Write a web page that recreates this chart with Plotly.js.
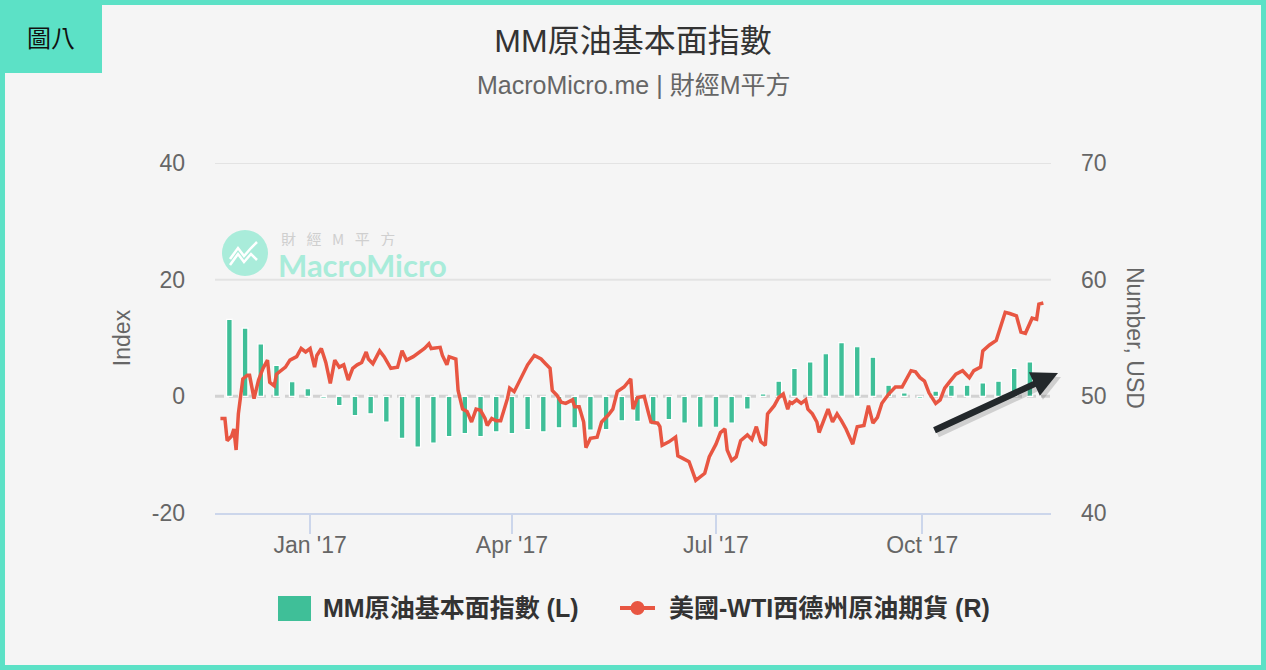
<!DOCTYPE html>
<html>
<head>
<meta charset="utf-8">
<script src="https://cdn.plot.ly/plotly-3.0.1.min.js"></script>
<style>
html,body{margin:0;padding:0;background:#f5f5f5;}
#wrap{position:relative;width:1266px;height:670px;overflow:hidden;}
#chart{width:1266px;height:670px;}
#frame{position:absolute;left:0;top:0;width:1266px;height:670px;box-sizing:border-box;border:5px solid #5ce1c6;pointer-events:none;}
</style>
</head>
<body>
<div id="wrap"><div id="chart"></div><div id="frame"></div></div>
<script>
// ---- data ----
var barName = 'MM原油基本面指數 (L)';
var lineName = '美國-WTI西德州原油期貨 (R)';

var barDates = [
 '2016-11-26','2016-12-03','2016-12-10','2016-12-17','2016-12-24','2016-12-31',
 '2017-01-07','2017-01-14','2017-01-21','2017-01-28',
 '2017-02-04','2017-02-11','2017-02-18','2017-02-25',
 '2017-03-04','2017-03-11','2017-03-18','2017-03-25',
 '2017-04-01','2017-04-08','2017-04-15','2017-04-22','2017-04-29',
 '2017-05-06','2017-05-13','2017-05-20','2017-05-27',
 '2017-06-03','2017-06-10','2017-06-17','2017-06-24',
 '2017-07-01','2017-07-08','2017-07-15','2017-07-22','2017-07-29',
 '2017-08-05','2017-08-12','2017-08-19','2017-08-26',
 '2017-09-02','2017-09-09','2017-09-16','2017-09-23','2017-09-30',
 '2017-10-07','2017-10-14','2017-10-21','2017-10-28',
 '2017-11-04','2017-11-11','2017-11-18'
];
var barValues = [
 13.2, 11.7, 9.0, 5.3, 2.5, 1.3,
 -0.3, -1.6, -3.3, -3.0,
 -4.4, -7.2, -8.7, -8.0,
 -6.9, -6.4, -6.9, -6.1,
 -6.4, -5.7, -6.1, -5.4, -5.4,
 -5.8, -5.7, -4.2, -4.3,
 -4.9, -4.0, -4.6, -5.3,
 -5.3, -4.6, -2.2, 0.4, 2.6,
 4.8, 5.9, 7.3, 9.2,
 8.5, 6.7, 1.9, 0.6, -0.3,
 0.9, 1.9, 1.9, 2.3,
 2.6, 4.8, 5.9
];

var lineDates = [
 '2016-11-22','2016-11-24','2016-11-25','2016-11-27','2016-11-28','2016-11-29','2016-11-30',
 '2016-12-02','2016-12-04','2016-12-05','2016-12-07','2016-12-09','2016-12-11','2016-12-13',
 '2016-12-14','2016-12-16','2016-12-17','2016-12-19','2016-12-21','2016-12-23','2016-12-26',
 '2016-12-28','2016-12-30',
 '2017-01-01','2017-01-03','2017-01-04','2017-01-06','2017-01-08','2017-01-10','2017-01-12',
 '2017-01-14','2017-01-16','2017-01-18','2017-01-20','2017-01-22','2017-01-24','2017-01-26',
 '2017-01-27','2017-01-29',
 '2017-02-01','2017-02-03','2017-02-06','2017-02-09','2017-02-11','2017-02-13','2017-02-16',
 '2017-02-19','2017-02-21','2017-02-23','2017-02-24','2017-02-28',
 '2017-03-01','2017-03-03','2017-03-04','2017-03-07','2017-03-08','2017-03-10','2017-03-12',
 '2017-03-14','2017-03-16','2017-03-18','2017-03-20','2017-03-21','2017-03-23','2017-03-25',
 '2017-03-27','2017-03-30','2017-03-31',
 '2017-04-02','2017-04-04','2017-04-06','2017-04-08','2017-04-11','2017-04-14','2017-04-16',
 '2017-04-18','2017-04-19','2017-04-21','2017-04-23','2017-04-25','2017-04-28','2017-04-29',
 '2017-05-01','2017-05-03','2017-05-04','2017-05-06','2017-05-09','2017-05-11','2017-05-14',
 '2017-05-16','2017-05-18','2017-05-21','2017-05-24','2017-05-25','2017-05-27','2017-05-30',
 '2017-06-01','2017-06-02','2017-06-05','2017-06-06','2017-06-07','2017-06-10','2017-06-13',
 '2017-06-14','2017-06-16','2017-06-19','2017-06-22','2017-06-24','2017-06-26','2017-06-28',
 '2017-07-01','2017-07-03','2017-07-05','2017-07-06','2017-07-08','2017-07-10','2017-07-12',
 '2017-07-15','2017-07-17','2017-07-19','2017-07-21','2017-07-23','2017-07-24','2017-07-27',
 '2017-07-29','2017-07-31',
 '2017-08-02','2017-08-03','2017-08-04','2017-08-06','2017-08-08','2017-08-10','2017-08-11',
 '2017-08-13','2017-08-15','2017-08-16','2017-08-19','2017-08-20','2017-08-22','2017-08-24',
 '2017-08-26','2017-08-28','2017-08-31',
 '2017-09-02','2017-09-05','2017-09-07','2017-09-09','2017-09-11','2017-09-13','2017-09-16',
 '2017-09-19','2017-09-22','2017-09-26','2017-09-28','2017-09-30',
 '2017-10-02','2017-10-04','2017-10-07','2017-10-09','2017-10-11','2017-10-13','2017-10-16',
 '2017-10-19','2017-10-22','2017-10-24','2017-10-27','2017-10-28','2017-10-31',
 '2017-11-03','2017-11-05','2017-11-07','2017-11-09','2017-11-12','2017-11-14','2017-11-16',
 '2017-11-19','2017-11-21','2017-11-22','2017-11-24'
];
var lineValues = [
 48.1, 48.1, 46.2, 46.6, 47.2, 45.4, 48.5,
 51.5, 51.8, 51.8, 49.8, 51.4, 52.4, 53.1,
 51.2, 50.9, 51.9, 52.2, 52.5, 53.1, 53.4,
 54.1, 53.8,
 54.1, 52.5, 53.5, 54.1, 52.9, 51.1, 53.1,
 52.5, 52.7, 51.4, 52.4, 52.7, 52.9, 53.8,
 53.2, 52.8,
 53.9, 53.4, 52.4, 52.5, 53.9, 53.1, 53.4,
 53.8, 54.1, 54.5, 54.1, 54.2,
 53.5, 52.7, 53.4, 53.2, 50.5, 48.9, 48.7,
 47.8, 48.9, 48.8, 48.1, 47.5, 48.1, 47.9,
 47.9, 49.8, 50.7,
 50.4, 51.2, 51.9, 52.7, 53.5, 53.2, 52.8,
 52.4, 50.5, 50.1, 49.5, 49.4, 49.7, 49.1,
 49.1, 47.8, 45.6, 46.4, 46.5, 47.8, 48.4,
 48.9, 50.4, 50.8, 51.5, 48.9, 49.9, 50.0,
 48.5, 47.8, 47.7, 47.4, 45.8, 46.1, 46.5,
 44.9, 44.7, 44.4, 42.8, 43.1, 43.4, 44.8,
 45.9, 46.9, 47.2, 45.4, 44.5, 44.8, 46.2,
 46.7, 46.3, 47.4, 46.1, 45.8, 48.5, 49.2,
 49.9, 50.2,
 48.9, 49.5, 49.4, 49.7, 49.4, 49.7, 48.9,
 48.5, 47.8, 46.9, 48.5, 48.9, 47.8, 48.5,
 47.9, 47.2, 45.9,
 47.4, 47.5, 49.2, 47.7, 48.2, 49.4, 50.2,
 50.8, 50.8, 52.2, 52.1, 51.6,
 51.3, 50.3, 49.4, 49.7, 50.7, 51.2, 51.9,
 52.2, 51.6, 52.2, 52.5, 53.9, 54.4,
 54.8, 55.9, 57.2, 57.1, 56.9, 55.5, 55.4,
 56.7, 56.6, 57.9, 58.0
];

var xTickVals = ['2017-01-01','2017-04-01','2017-07-01','2017-10-01'];
var xTickText = ["Jan '17","Apr '17","Jul '17","Oct '17"];
var leftTicks = [-20, 0, 20, 40];
var leftTickText = ['-20', '0', '20', '40'];
var rightTicks = [40, 50, 60, 70];

// ---- styling / layout helpers ----
var FONT = '"Liberation Sans", Arial, "Noto Sans CJK TC", sans-serif';
var BAR_COLOR = '#3fbf98';
var LINE_COLOR = '#e85642';
var M = {l: 215, r: 215, t: 163, b: 157};
var PW = 1266 - M.l - M.r, PH = 670 - M.t - M.b;
function PX(px) { return (px - M.l) / PW; }          // pixel x -> paper x
function PY(py) { return (670 - M.b - py) / PH; }    // pixel y -> paper y

var traces = [
  {
    type: 'bar',
    name: barName,
    x: barDates,
    y: barValues,
    yaxis: 'y',
    width: 2.5 * 86400000,
    marker: {color: BAR_COLOR, line: {color: '#ffffff', width: 1.2}},
    showlegend: false
  },
  {
    type: 'scatter',
    mode: 'lines',
    name: lineName,
    x: lineDates,
    y: lineValues,
    yaxis: 'y2',
    line: {color: LINE_COLOR, width: 3.5},
    showlegend: false
  }
];

var shapes = [];
leftTicks.forEach(function (v) {
  if (v === leftTicks[0]) return;
  if (v === 0) {
    shapes.push({type: 'line', xref: 'paper', x0: 0, x1: 1, yref: 'y', y0: v, y1: v,
      line: {color: '#d2d2d2', width: 3, dash: '9px,5px'}, layer: 'below'});
  } else {
    shapes.push({type: 'line', xref: 'paper', x0: 0, x1: 1, yref: 'y', y0: v, y1: v,
      line: {color: '#e3e3e3', width: 2}, layer: 'below'});
  }
});
// watermark logo
var logoX = PX(245), logoY = PY(253);
shapes.push({type: 'circle', xref: 'paper', yref: 'paper', xsizemode: 'pixel', ysizemode: 'pixel',
  xanchor: logoX, yanchor: logoY, x0: -23, x1: 23, y0: -23, y1: 23,
  fillcolor: '#a9ecda', line: {width: 0}, layer: 'below'});
shapes.push({type: 'path', xref: 'paper', yref: 'paper', xsizemode: 'pixel', ysizemode: 'pixel',
  xanchor: logoX, yanchor: logoY,
  path: 'M -15 -6 L -7 5 L -1 -3 L 6 5 L 12 11',
  line: {color: '#ffffff', width: 2.5}, layer: 'below'});
shapes.push({type: 'path', xref: 'paper', yref: 'paper', xsizemode: 'pixel', ysizemode: 'pixel',
  xanchor: logoX, yanchor: logoY,
  path: 'M -15 -12 L -7 -1 L -1 -9 L 6 -1 L 12 -7',
  line: {color: '#ffffff', width: 2.5}, layer: 'below'});
// legend symbols
var legY = PY(608);
shapes.push({type: 'rect', xref: 'paper', yref: 'paper', x0: PX(278), x1: PX(311), y0: PY(621), y1: PY(596),
  fillcolor: BAR_COLOR, line: {width: 0}});
shapes.push({type: 'line', xref: 'paper', yref: 'paper', x0: PX(620), x1: PX(655), y0: legY, y1: legY,
  line: {color: LINE_COLOR, width: 4}});
shapes.push({type: 'circle', xref: 'paper', yref: 'paper', xsizemode: 'pixel', ysizemode: 'pixel',
  xanchor: PX(637.5), yanchor: legY, x0: -7, x1: 7, y0: -7, y1: 7,
  fillcolor: LINE_COLOR, line: {width: 0}});

var SP = '\u2002\u2009';
var annotations = [
  {text: 'MacroMicro.me | 財經M平方', xref: 'paper', yref: 'paper', x: 0.5, y: PY(85),
   xanchor: 'center', yanchor: 'middle', showarrow: false,
   font: {family: FONT, size: 25, color: '#666666'}},
  {text: '圖八', xref: 'paper', yref: 'paper', x: PX(0), y: PY(0),
   xanchor: 'left', yanchor: 'top', showarrow: false, width: 102, height: 73,
   bgcolor: '#5ce1c6', borderpad: 0, borderwidth: 0,
   font: {family: '"Noto Sans CJK TC", sans-serif', size: 24, color: '#111111'}},
  {text: 'Number, USD', xref: 'paper', yref: 'paper', x: PX(1135), y: 0.5,
   xanchor: 'center', yanchor: 'middle', textangle: 90, showarrow: false,
   font: {family: FONT, size: 23, color: '#666666'}},
  {text: ['財', '經', 'M', '平', '方'].join(SP), xref: 'paper', yref: 'paper', x: PX(281), y: PY(238),
   xanchor: 'left', yanchor: 'middle', showarrow: false, height: 16, borderpad: 0, borderwidth: 0,
   font: {family: '"Noto Sans CJK TC", sans-serif', size: 15, color: '#cfcfcf'}},
  {text: '<b>MacroMicro</b>', xref: 'paper', yref: 'paper', x: PX(278), y: PY(265),
   xanchor: 'left', yanchor: 'middle', showarrow: false, height: 26, borderpad: 0, borderwidth: 0,
   font: {family: 'Lato, sans-serif', size: 31, color: '#a9ecda'}},
  // legend texts
  {text: barName, xref: 'paper', yref: 'paper', x: PX(321), y: legY,
   xanchor: 'left', yanchor: 'middle', showarrow: false,
   font: {family: FONT, size: 25, color: '#333333', weight: 'bold'}},
  {text: lineName, xref: 'paper', yref: 'paper', x: PX(667), y: legY,
   xanchor: 'left', yanchor: 'middle', showarrow: false,
   font: {family: FONT, size: 25, color: '#333333', weight: 'bold'}},
  // arrow shadow + arrow
  {text: '', xref: 'paper', yref: 'paper', x: PX(1061), y: PY(377),
   ax: -125, ay: 58, showarrow: true, arrowhead: 2, arrowsize: 0.8, arrowwidth: 6.5,
   arrowcolor: 'rgba(0,0,0,0.15)', standoff: 0},
  {text: '', xref: 'paper', yref: 'paper', x: PX(1058), y: PY(373),
   ax: -125, ay: 58, showarrow: true, arrowhead: 2, arrowsize: 0.8, arrowwidth: 6.5,
   arrowcolor: '#23282b', standoff: 0}
];

var layout = {
  width: 1266, height: 670,
  paper_bgcolor: '#f5f5f5',
  plot_bgcolor: 'rgba(0,0,0,0)',
  margin: {l: M.l, r: M.r, t: M.t, b: M.b, pad: 0},
  font: {family: FONT, color: '#666666'},
  title: {text: 'MM原油基本面指數', x: 0.5, xref: 'container', y: 1 - 41 / 670, yref: 'container',
          xanchor: 'center', yanchor: 'middle',
          font: {family: FONT, size: 32, color: '#333333'}},
  showlegend: false,
  xaxis: {type: 'date', range: ['2016-11-19 14:00', '2017-11-27 10:00'],
          tickvals: xTickVals, ticktext: xTickText,
          showgrid: false, zeroline: false, showline: true, linecolor: '#ccd6eb', linewidth: 2,
          ticks: 'outside', ticklen: 19, tickwidth: 2, tickcolor: '#ccd6eb', ticklabelstandoff: -9,
          tickfont: {family: FONT, size: 23, color: '#666666'}, fixedrange: true},
  yaxis: {range: [-20, 40], tickvals: leftTicks, ticktext: leftTickText,
          showgrid: false, zeroline: false, showline: false,
          tickfont: {family: FONT, size: 23, color: '#666666'}, ticklabelstandoff: 29,
          title: {text: 'Index', font: {family: FONT, size: 23, color: '#666666'}, standoff: 14},
          fixedrange: true},
  yaxis2: {range: [40, 70], tickvals: rightTicks, overlaying: 'y', side: 'right',
           showgrid: false, zeroline: false, showline: false,
           tickfont: {family: FONT, size: 23, color: '#666666'}, ticklabelstandoff: 29,
           fixedrange: true},
  shapes: shapes,
  annotations: annotations,
  bargap: 0
};

Plotly.newPlot('chart', traces, layout, {displayModeBar: false, staticPlot: true});
</script>
</body>
</html>
